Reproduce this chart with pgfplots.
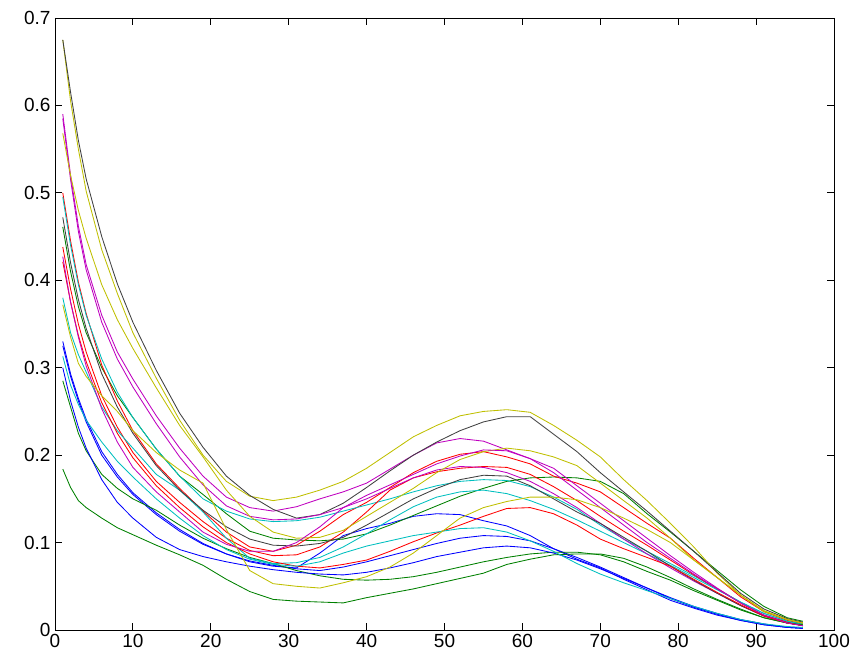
\documentclass[border=0pt]{standalone}
\usepackage{pgfplots}
\usepackage{pgfplotstable}
\pgfplotsset{compat=1.18}
\usepackage{fontspec}
\setmainfont{Liberation Sans}
\usetikzlibrary{calc}
\definecolor{colB}{rgb}{0,0,1}
\definecolor{colG}{rgb}{0,0.5,0}
\definecolor{colR}{rgb}{1,0,0}
\definecolor{colC}{rgb}{0,0.75,0.75}
\definecolor{colM}{rgb}{0.75,0,0.75}
\definecolor{colY}{rgb}{0.75,0.75,0}
\definecolor{colK}{rgb}{0.25,0.25,0.25}

\pgfplotstableread{
x bA gA rA cA mA yA kA bB gB rB cB mB yB kB bC gC rC cC mC yC
1 .330 .461 .500 .495 .590 .675 .675 .325 .285 .438 .380 .585 .568 .472 .300 .184 .421 .313 .427 .372
2 .293 .410 .445 .440 .520 .605 .615 .290 .255 .390 .340 .515 .520 .420 .262 .163 .375 .280 .375 .335
3 .265 .370 .398 .395 .462 .550 .560 .262 .225 .350 .315 .456 .480 .378 .232 .148 .337 .258 .335 .305
4 .241 .340 .362 .360 .418 .502 .516 .238 .205 .318 .295 .412 .448 .345 .208 .140 .307 .240 .302 .290
6 .204 .300 .303 .310 .360 .435 .450 .200 .178 .268 .255 .352 .395 .293 .172 .128 .260 .215 .253 .268
8 .178 .268 .262 .272 .318 .385 .396 .175 .162 .232 .228 .310 .355 .255 .146 .117 .225 .193 .215 .250
10 .157 .243 .228 .243 .287 .340 .352 .155 .150 .203 .208 .278 .322 .225 .128 .109 .197 .175 .186 .228
13 .134 .207 .190 .207 .245 .288 .297 .132 .137 .170 .178 .236 .277 .188 .106 .097 .165 .150 .158 .203
16 .115 .176 .162 .176 .208 .240 .248 .113 .120 .146 .160 .198 .234 .160 .092 .086 .140 .128 .135 .183
19 .099 .155 .136 .150 .176 .200 .209 .098 .105 .124 .135 .166 .198 .137 .084 .074 .118 .108 .112 .168
22 .087 .133 .112 .136 .152 .170 .176 .087 .093 .105 .105 .142 .160 .118 .078 .058 .100 .092 .098 .115
25 .078 .113 .095 .127 .140 .153 .154 .079 .083 .091 .082 .130 .130 .104 .073 .044 .087 .081 .090 .068
28 .073 .105 .090 .124 .136 .148 .138 .074 .076 .085 .076 .126 .112 .097 .069 .035 .078 .075 .090 .053
31 .071 .103 .097 .125 .141 .152 .128 .070 .068 .086 .077 .127 .105 .096 .066 .033 .073 .073 .100 .050
34 .088 .102 .113 .129 .150 .160 .132 .068 .062 .095 .083 .132 .106 .099 .064 .032 .071 .078 .118 .048
37 .108 .104 .132 .136 .158 .170 .145 .072 .058 .112 .095 .140 .114 .106 .063 .031 .075 .088 .140 .054
40 .116 .110 .146 .143 .168 .185 .163 .078 .057 .135 .110 .150 .130 .120 .066 .037 .080 .096 .154 .061
43 .122 .120 .163 .150 .184 .203 .182 .085 .058 .160 .126 .162 .146 .135 .071 .042 .090 .102 .166 .072
46 .130 .131 .180 .158 .200 .221 .200 .092 .061 .174 .141 .174 .162 .150 .077 .047 .101 .108 .178 .088
49 .133 .142 .193 .165 .214 .234 .215 .099 .066 .181 .152 .183 .180 .162 .084 .053 .111 .112 .190 .108
52 .132 .153 .201 .170 .219 .245 .228 .105 .072 .185 .158 .187 .195 .172 .089 .059 .120 .116 .199 .128
55 .125 .162 .204 .172 .216 .250 .238 .108 .078 .187 .160 .186 .204 .177 .094 .065 .130 .117 .206 .140
58 .119 .170 .198 .171 .206 .252 .244 .107 .083 .186 .156 .180 .208 .176 .096 .075 .139 .112 .205 .147
61 .108 .174 .190 .164 .196 .249 .244 .102 .087 .178 .148 .170 .205 .165 .094 .081 .140 .102 .196 .152
64 .093 .175 .176 .152 .185 .234 .224 .093 .089 .164 .138 .156 .198 .150 .088 .086 .133 .090 .180 .152
67 .081 .174 .168 .138 .165 .217 .204 .083 .089 .148 .126 .140 .188 .135 .080 .087 .120 .076 .160 .149
70 .071 .170 .158 .120 .145 .198 .180 .072 .086 .130 .113 .122 .168 .122 .070 .087 .104 .064 .140 .140
73 .058 .156 .140 .104 .125 .172 .158 .060 .078 .113 .100 .104 .148 .106 .059 .082 .093 .054 .120 .128
76 .046 .133 .122 .090 .105 .148 .136 .048 .067 .097 .087 .087 .128 .090 .048 .072 .083 .045 .100 .115
79 .034 .112 .105 .076 .085 .122 .113 .036 .057 .080 .074 .071 .105 .073 .037 .060 .073 .036 .082 .100
82 .025 .090 .082 .062 .066 .095 .090 .026 .045 .063 .060 .056 .080 .057 .027 .047 .058 .027 .064 .080
85 .017 .068 .060 .047 .048 .065 .066 .018 .034 .047 .046 .042 .060 .042 .019 .035 .043 .019 .047 .060
88 .011 .046 .038 .032 .031 .040 .042 .011 .023 .031 .032 .028 .040 .028 .012 .024 .029 .012 .031 .040
91 .006 .027 .021 .019 .017 .021 .024 .006 .014 .017 .019 .016 .022 .016 .007 .014 .016 .007 .017 .022
94 .003 .014 .011 .010 .009 .012 .013 .003 .008 .009 .010 .008 .012 .008 .003 .008 .008 .004 .008 .012
96 .002 .010 .007 .007 .006 .008 .009 .002 .006 .005 .006 .005 .008 .005 .002 .006 .005 .003 .005 .008
}\data

\begin{document}
\begin{tikzpicture}
\begin{axis}[
  scale only axis,
  width=779pt, height=612pt,
  xmin=0, xmax=100, ymin=0, ymax=0.7,
  xtick={0,10,20,30,40,50,60,70,80,90,100},
  ytick={0,0.1,0.2,0.3,0.4,0.5,0.6,0.7},
  tick align=inside,
  major tick length=7pt,
  axis line style={line width=0.9pt, black},
  tick style={line width=0.9pt, black},
  ticklabel style={font=\fontsize{19}{22}\selectfont},
  /pgf/number format/assume math mode=true,
  yticklabel style={/pgf/number format/fixed, /pgf/number format/precision=1, xshift=-1pt},
  xticklabel style={yshift=-1pt},
  every axis plot/.append style={line width=0.85pt, mark=none},
]
\addplot[colB] table[x=x,y=bA]{\data};
\addplot[colG] table[x=x,y=gA]{\data};
\addplot[colR] table[x=x,y=rA]{\data};
\addplot[colC] table[x=x,y=cA]{\data};
\addplot[colM] table[x=x,y=mA]{\data};
\addplot[colY] table[x=x,y=yA]{\data};
\addplot[colK] table[x=x,y=kA]{\data};
\addplot[colB] table[x=x,y=bB]{\data};
\addplot[colG] table[x=x,y=gB]{\data};
\addplot[colR] table[x=x,y=rB]{\data};
\addplot[colC] table[x=x,y=cB]{\data};
\addplot[colM] table[x=x,y=mB]{\data};
\addplot[colY] table[x=x,y=yB]{\data};
\addplot[colK] table[x=x,y=kB]{\data};
\addplot[colB] table[x=x,y=bC]{\data};
\addplot[colG] table[x=x,y=gC]{\data};
\addplot[colR] table[x=x,y=rC]{\data};
\addplot[colC] table[x=x,y=cC]{\data};
\addplot[colM] table[x=x,y=mC]{\data};
\addplot[colY] table[x=x,y=yC]{\data};
\end{axis}
\pgfresetboundingbox
\path ($(current axis.south west)+(-55pt,-29pt)$) rectangle ($(current axis.north east)+(19pt,18pt)$);
\end{tikzpicture}
\end{document}
